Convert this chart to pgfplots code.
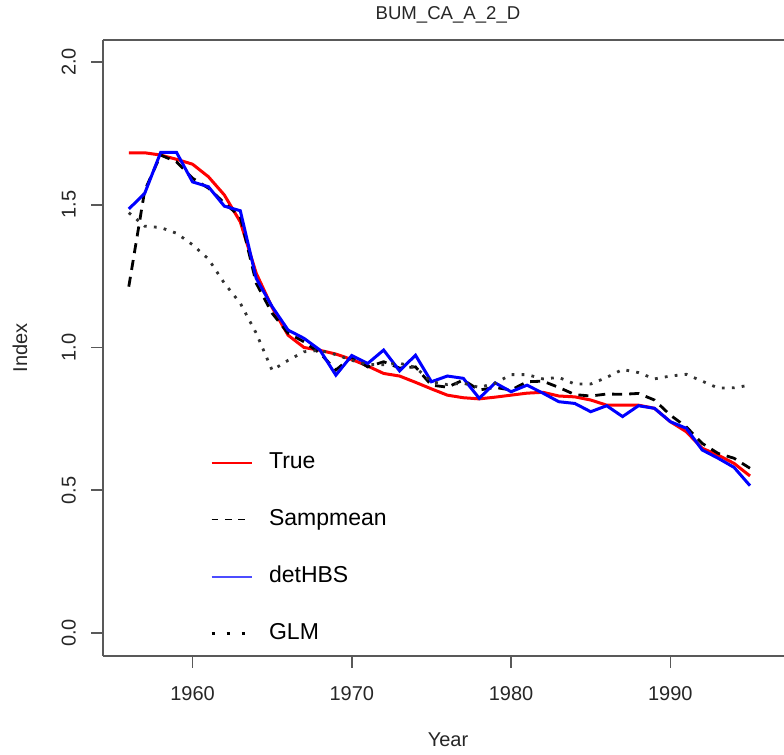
\documentclass[border=0pt]{standalone}
\usepackage{pgfplots}
\usepackage{pgfplotstable}
\pgfplotsset{compat=1.18}
\usepackage{fontspec}
\setmainfont{Liberation Sans}

\pgfplotstableread{
year true samp det glm
1956 1.682 1.213 1.485 1.472
1957 1.682 1.550 1.540 1.425
1958 1.674 1.674 1.683 1.420
1959 1.659 1.650 1.683 1.400
1960 1.642 1.593 1.580 1.360
1961 1.598 1.558 1.563 1.310
1962 1.534 1.506 1.495 1.225
1963 1.440 1.458 1.479 1.155
1964 1.260 1.225 1.242 1.050
1965 1.140 1.120 1.143 0.920
1966 1.043 1.050 1.061 0.955
1967 1.000 1.020 1.032 0.985
1968 0.990 0.980 0.991 0.990
1969 0.977 0.921 0.903 0.975
1970 0.958 0.967 0.972 0.955
1971 0.935 0.932 0.944 0.940
1972 0.909 0.950 0.991 0.940
1973 0.900 0.928 0.918 0.945
1974 0.878 0.932 0.973 0.930
1975 0.855 0.868 0.880 0.880
1976 0.833 0.861 0.900 0.870
1977 0.824 0.886 0.892 0.875
1978 0.820 0.851 0.822 0.860
1979 0.826 0.860 0.876 0.875
1980 0.833 0.851 0.845 0.905
1981 0.840 0.880 0.868 0.905
1982 0.843 0.882 0.840 0.890
1983 0.830 0.860 0.810 0.895
1984 0.827 0.835 0.804 0.872
1985 0.816 0.830 0.775 0.872
1986 0.798 0.837 0.796 0.895
1987 0.798 0.836 0.758 0.923
1988 0.798 0.839 0.796 0.912
1989 0.787 0.816 0.787 0.890
1990 0.740 0.763 0.740 0.900
1991 0.705 0.722 0.717 0.906
1992 0.647 0.664 0.641 0.882
1993 0.623 0.629 0.612 0.858
1994 0.594 0.612 0.580 0.859
1995 0.550 0.577 0.516 0.868
}\datatable

\begin{document}
\begin{tikzpicture}
\begin{axis}[
  scale only axis,
  width=345pt, height=308pt,
  xmin=1954.38, xmax=1997.70,
  ymin=-0.0806, ymax=2.077,
  axis x line*=box, axis y line*=left,
  axis line style={black!65, line width=0.8pt, -},
  xtick pos=bottom, ytick pos=left,
  xtick={1960,1970,1980,1990},
  ytick={0,0.5,1,1.5,2},
  tick align=outside,
  major tick length=6pt,
  tick style={black!65, line width=0.8pt},
  xticklabel shift=5.5pt,
  yticklabel shift=4pt,
  x tick label style={/pgf/number format/1000 sep={}},
  y tick label style={rotate=90, anchor=south, /pgf/number format/fixed, /pgf/number format/fixed zerofill, /pgf/number format/precision=1},
  /pgf/number format/assume math mode=true,
  tick label style={font=\fontsize{10}{12}\selectfont, text=black!85},
  xlabel={Year}, ylabel={Index},
  label style={font=\fontsize{10}{12}\selectfont, text=black!85},
  xlabel style={at={(axis description cs:0.5,-0.1364)}, anchor=center},
  ylabel style={at={(axis description cs:-0.1203,0.5)}, anchor=center},
  title={BUM\_CA\_A\_2\_D},
  every axis title shift=0pt,
  title style={font=\fontsize{9.3}{11}\selectfont, at={(axis description cs:0.5,1.0406)}, anchor=center, text=black!85},
  legend style={at={(axis description cs:0.1546,0.332)}, anchor=north west, draw=none, fill=none,
    font=\fontsize{11.5}{13}\selectfont, row sep=17.5pt, inner sep=0pt,
    nodes={inner sep=0pt, text height=8.5pt, text depth=2.5pt}},
  legend cell align=left,
  /tikz/every odd column/.append style={column sep=8pt},
]
\addplot[red, line width=1.5pt,
  legend image code/.code={\draw[red, line width=0.7pt] (0pt,0pt) -- (20pt,0pt);}]
  table[x=year, y=true] {\datatable};
\addlegendentry{True}
\addplot[black, line width=1.4pt, dash pattern=on 5pt off 3.5pt,
  legend image code/.code={\draw[black, line width=0.6pt, dash pattern=on 3.3pt off 3.4pt] (0pt,0pt) -- (20pt,0pt);}]
  table[x=year, y=samp] {\datatable};
\addlegendentry{Sampmean}
\addplot[blue, line width=1.5pt,
  legend image code/.code={\draw[blue!70, line width=0.9pt] (0pt,0pt) -- (20pt,0pt);}]
  table[x=year, y=det] {\datatable};
\addlegendentry{detHBS}
\addplot[black!80, line width=1.4pt, dash pattern=on 1.4pt off 3.6pt,
  legend image code/.code={\draw[black, line width=1.5pt, dash pattern=on 1.5pt off 6pt] (0pt,0pt) -- (20pt,0pt);}]
  table[x=year, y=glm] {\datatable};
\addlegendentry{GLM}
\end{axis}
\pgfresetboundingbox
\path (current axis.south west) ++(-51.5pt,-49.5pt) rectangle ++(392pt,377.5pt);
\end{tikzpicture}
\end{document}
